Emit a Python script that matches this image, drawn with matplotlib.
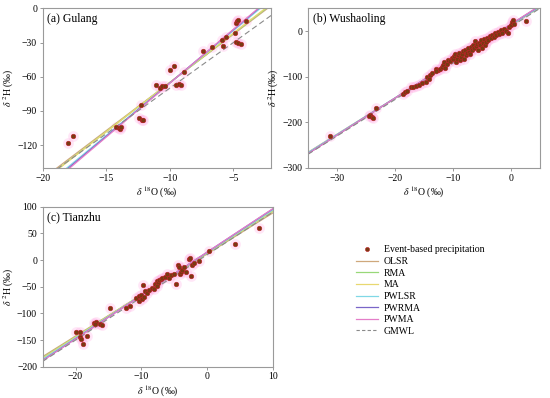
import numpy as np
import matplotlib.pyplot as plt
from matplotlib.lines import Line2D

plt.rcParams['font.family'] = ['Liberation Serif', 'DejaVu Serif']
plt.rcParams['mathtext.fontset'] = 'stix'
plt.rcParams['font.size'] = 7

# ─── DATA ───────────────────────────────────────────────────────────────
# event-based precipitation (d18O, d2H)
gulang_o = [-18.0, -17.6, -14.2, -14.0, -13.9, -13.8, -12.3, -12.4, -12.2, -12.1,
            -11.1, -10.8, -10.6, -10.4, -10.0, -9.7, -9.5, -9.3, -9.1, -8.9,
            -7.4, -6.7, -5.9, -5.6, -5.8, -4.9, -4.8, -4.7, -4.65, -4.0,
            -4.8, -4.6, -4.4]
gulang_h = [-118.5, -112, -104, -105, -106, -104.5, -84.5, -96.5, -97.5, -98,
            -67, -69.5, -68.5, -68, -54.5, -51, -67, -66.5, -67, -56,
            -37.5, -34, -27.5, -25.5, -33, -21.5, -13, -11.5, -10.5, -11.5,
            -29.5, -30.5, -31]

wush_o = [-31.2, -24.3, -24.0, -23.8, -24.5, -23.2, -18.6, -18.2, -17.9, -17.2,
          -16.9, -16.3, -15.9, -15.3, -14.6, -14.4, -14.1, -13.9, -13.6, -13.0,
          -12.6, -12.9, -12.2, -11.9, -11.7, -11.5, -11.3, -11.0, -10.8, -10.5,
          -10.2, -10.0, -9.8, -9.6, -9.5, -9.3, -9.1, -9.0, -8.8, -8.6,
          -8.4, -8.2, -8.1, -7.9, -7.8, -7.6, -7.4, -7.2, -7.0, -6.9,
          -6.7, -6.5, -6.3, -6.2, -6.0, -5.8, -5.7, -5.5, -5.3, -5.1,
          -5.0, -4.8, -4.6, -4.5, -4.3, -4.1, -3.9, -3.7, -3.5, -3.2,
          -3.0, -2.8, -2.5, -2.3, -2.0, -1.8, -1.5, -1.2, -0.8, -0.6,
          -0.3, 0.0, 0.2, 0.4, 0.5, 2.6]
wush_h = [-230, -183, -188, -190, -186, -168, -138, -134, -131, -122,
          -123, -121, -117, -114, -112, -100, -106, -97, -91, -82,
          -85, -88, -84, -78, -74, -67, -80, -72, -63, -66,
          -58, -61, -55, -50, -68, -60, -52, -47, -64, -57,
          -50, -44, -60, -42, -53, -48, -38, -45, -50, -35,
          -41, -30, -37, -22, -33, -28, -42, -25, -31, -20,
          -36, -27, -18, -30, -23, -14, -19, -10, -16, -8,
          -13, -5, -9, -2, -6, 2, -3, 4, 1, -4,
          10, 14, 20, 24, 15, 22]

tian_o = [-20.0, -19.4, -19.3, -19.1, -18.9, -18.3, -17.2, -16.9, -17.0, -16.3,
          -16.0, -14.7, -12.4, -11.8, -10.8, -10.4, -10.0, -10.3, -9.9, -9.6,
          -9.8, -9.5, -9.1, -8.8, -8.4, -8.1, -7.9, -7.7, -7.5, -7.3,
          -7.6, -7.0, -6.8, -6.4, -6.1, -5.8, -5.5, -5.0, -4.7, -4.5,
          -4.3, -4.2, -4.0, -3.8, -3.5, -3.2, -2.8, -2.6, -2.4, -2.3,
          -2.0, -1.3, 0.3, 4.2, 7.9]
tian_h = [-134, -134, -145, -148, -157.5, -142, -118, -117, -119, -119,
          -121, -90.5, -89, -86, -71, -68, -66, -76, -73, -70,
          -47, -58, -61, -57, -53, -55, -45, -40, -43, -38,
          -48, -36, -33, -31, -27, -34, -28, -26, -44, -10,
          -13, -27, -22, -19, -13, -22, 2, 3.5, -29, -9,
          -5, -2, 17, 30, 61]

# regression lines: (slope, intercept) per method
methods = ['OLSR', 'RMA', 'MA', 'PWLSR', 'PWRMA', 'PWMA']
gulang_fit = [(8.45, 19.5), (8.6, 20.8), (8.65, 21.5), (9.2, 26.5), (9.35, 28.0), (9.45, 28.8)]
wush_fit = [(7.95, 12.5), (8.05, 14.0), (8.08, 14.5), (8.0, 13.5), (8.1, 15.0), (8.12, 15.5)]
tian_fit = [(7.7, 11.5), (7.85, 13.0), (7.9, 13.5), (8.0, 14.0), (8.12, 14.8), (8.15, 15.0)]
gmwl = (8.0, 10.0)

colors = ['#cfa87c', '#98d878', '#e8d870', '#80d8e6', '#7a66c8', '#e47ec8']
pt_color = '#7a3a12'

panels = [
    dict(name='(a) Gulang', o=gulang_o, h=gulang_h, fit=gulang_fit,
         xlim=(-20, -2), ylim=(-140, 0), xt=[-20, -15, -10, -5], yt=[-120, -90, -60, -30, 0],
         pos=[0.0776, 0.578, 0.416, 0.401]),
    dict(name='(b) Wushaoling', o=wush_o, h=wush_h, fit=wush_fit,
         xlim=(-35, 5), ylim=(-300, 50), xt=[-30, -20, -10, 0], yt=[-300, -200, -100, 0],
         pos=[0.560, 0.578, 0.4218, 0.401]),
    dict(name='(c) Tianzhu', o=tian_o, h=tian_h, fit=tian_fit,
         xlim=(-25, 10), ylim=(-200, 100), xt=[-20, -10, 0, 10], yt=[-200, -150, -100, -50, 0, 50, 100],
         pos=[0.0776, 0.0786, 0.4187, 0.402]),
]

fig = plt.figure(figsize=(5.5, 3.98), dpi=100)

for p in panels:
    ax = fig.add_axes(p['pos'])
    xs = np.array(p['xlim'])
    for (k, b), c in zip(p['fit'], colors):
        ax.plot(xs, k * xs + b, color=c, lw=0.9, zorder=2)
    ax.plot(xs, gmwl[0] * xs + gmwl[1], color='#8a8a8a', lw=0.8, ls=(0, (5, 3)), zorder=2)
    # pinkish halo around the points, as in the original
    ax.scatter(p['o'], p['h'], s=60, color='#ff9fe0', alpha=0.25, lw=0, zorder=1)
    ax.scatter(p['o'], p['h'], s=11, color=pt_color, edgecolors='#c0202a', lw=0.4, zorder=3)
    ax.set_xlim(p['xlim'])
    ax.set_ylim(p['ylim'])
    ax.set_xticks(p['xt'])
    ax.set_yticks(p['yt'])
    ax.tick_params(direction='out', length=2, width=0.6, color='#888888', labelsize=7, pad=2)
    for s in ax.spines.values():
        s.set_color('#9a9a9a')
        s.set_linewidth(0.8)
    ax.set_xlabel(r'$\delta$ $^{18}$O (‰)', fontsize=7, labelpad=2)
    ax.set_ylabel(r'$\delta$ $^{2}$H (‰)', fontsize=7, labelpad=1)
    ax.text(0.02, 0.97, p['name'], transform=ax.transAxes, ha='left', va='top', fontsize=8.5)

handles = [Line2D([], [], ls='none', marker='o', ms=3.0, color=pt_color, mec='#c0202a', mew=0.4)]
labels = ['Event-based precipitation']
for m, c in zip(methods, colors):
    handles.append(Line2D([], [], color=c, lw=0.9))
    labels.append(m)
handles.append(Line2D([], [], color='#8a8a8a', lw=0.8, ls=(0, (3, 2))))
labels.append('GMWL')

fig.legend(handles, labels, loc='upper left', bbox_to_anchor=(0.640, 0.393),
           frameon=False, fontsize=7, handlelength=2.3, handletextpad=0.6,
           labelspacing=0.27, borderaxespad=0)

fig.savefig('out.png', dpi=100)
